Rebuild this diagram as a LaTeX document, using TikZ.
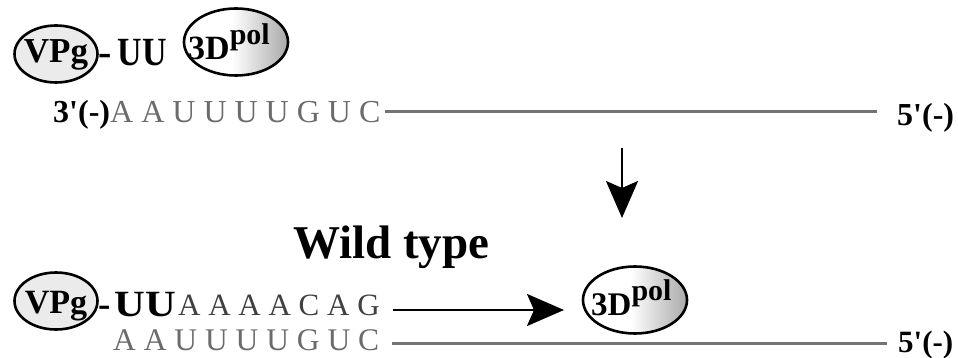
\documentclass[tikz,border=0pt]{standalone}
\usepackage{fontspec}
\setmainfont{Liberation Serif}
\usetikzlibrary{shapes.geometric,arrows.meta}
\pgfdeclarehorizontalshading{polshade}{100bp}{color(0bp)=(white); color(48bp)=(white); color(76bp)=(black!35); color(100bp)=(black!90)}
\newcommand{\fsz}[1]{\fontsize{#1}{#1}\selectfont}
\begin{document}
\begin{tikzpicture}[x=1pt,y=-1pt,
  vpg/.style={ellipse, draw, line width=2.6pt, fill=black!8, minimum width=83pt, minimum height=57pt, inner sep=0pt},
  pol/.style={ellipse, draw, line width=2.6pt, shading=polshade, minimum width=104pt, minimum height=67pt, inner sep=0pt},
  blk/.style={font=\bfseries\fsz{#1}, inner sep=0pt, anchor=base west, text=black},
  seq/.style={font=\fsz{#1}, inner sep=0pt, anchor=base west, text=black!58},
  strand/.style={draw=black!55, line width=3pt},
  arr/.style={draw=black, line width=2.4pt, -{Stealth[length=37pt, width=32pt, inset=7pt]}}
]
\useasboundingbox (0,0) rectangle (958,358);

% ---------- top ----------
\node[vpg] (vpgA) at (56,54) {};
\node[font=\bfseries\fsz{35}, inner sep=0pt, anchor=base] (vpgAt) at (56,63) {VPg};
\node[blk=40] (uuA) at (98,66) {-\hspace{6pt}\scalebox{0.85}[1]{UU}};
\node[pol] (polA) at (236,42) {};
\node[blk=34] (polAt) at (188,60) {3D\raisebox{15pt}{\fsz{30}pol}};

\node[blk=32] (lblA3) at (53,123) {3\textquotesingle(-)};
\node[seq=32] (seqA) at (110,123) {A A U U U U G U C};
\node[blk=32] (lblA5) at (897,126) {5\textquotesingle(-)};
\coordinate (la1) at (385,112);
\coordinate (la2) at (877,112);
\draw[strand] (la1) -- (la2);

% ---------- arrow down ----------
\coordinate (dA) at (622,148);
\coordinate (dB) at (622,218);
\draw[arr] (dA) -- (dB);

\node[blk=47] (wild) at (293,258) {Wild type};

% ---------- bottom ----------
\node[vpg] (vpgB) at (56,301) {};
\node[font=\bfseries\fsz{34}, inner sep=0pt, anchor=base] (vpgBt) at (56,313) {VPg};
\node[blk=37] (uuB) at (98,316) {-\hspace{4pt}\scalebox{1.15}[1]{UU}};
\node[seq=31, text=black!75] (seqB1) at (178,315) {A A A A C A G};
\node[seq=31.5] (seqB2) at (113,350) {A A U U U U G U C};
\node[pol] (polB) at (635,300) {};
\node[blk=33] (polBt) at (591,315) {3D\raisebox{15pt}{\fsz{30}pol}};
\node[blk=31] (lblB5) at (898,352) {5\textquotesingle(-)};

\coordinate (ha) at (393,310);
\coordinate (hb) at (564,310);
\draw[arr] (ha) -- (hb);

\coordinate (lb1) at (392,343);
\coordinate (lb2) at (887,343);
\draw[strand] (lb1) -- (lb2);
\end{tikzpicture}
\end{document}
